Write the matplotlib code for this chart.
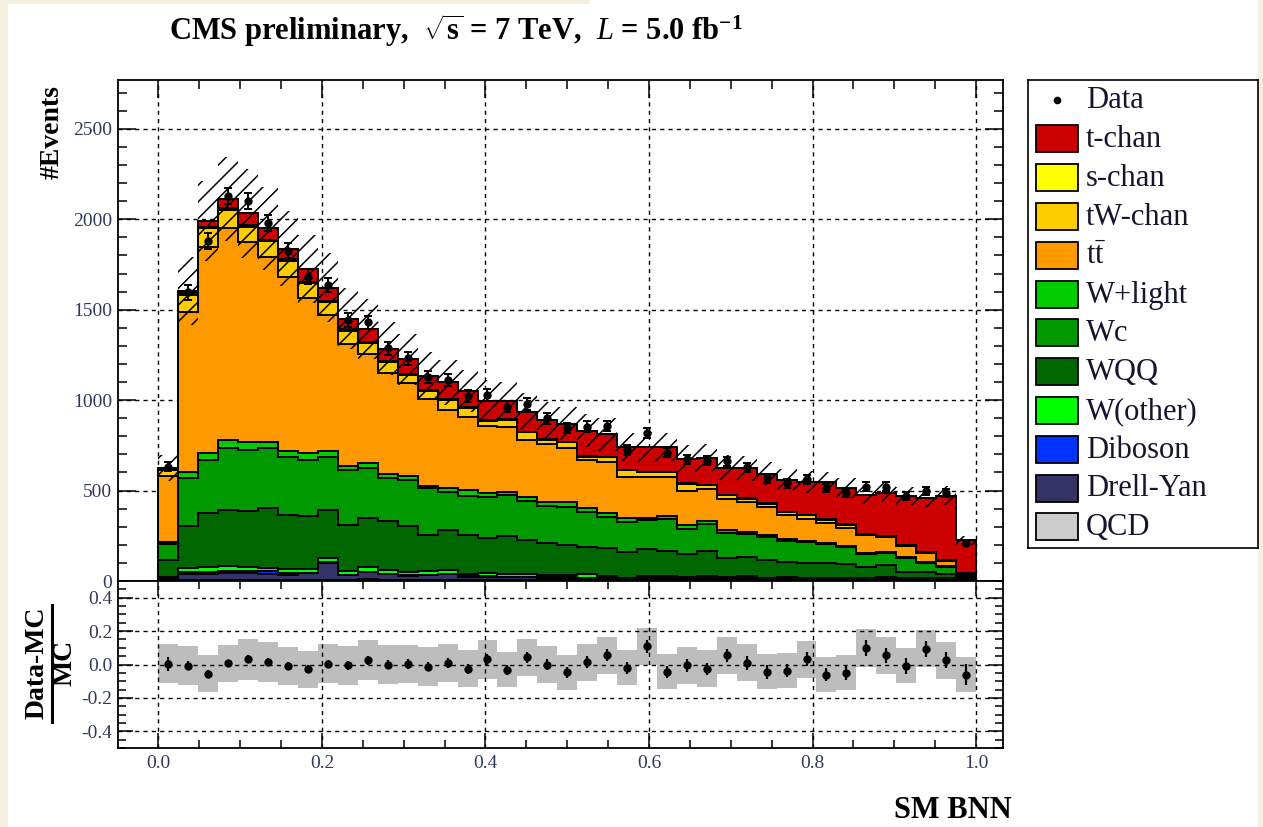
import numpy as np
import matplotlib
matplotlib.use("Agg")
import matplotlib.pyplot as plt
from matplotlib.patches import Rectangle
from matplotlib.lines import Line2D
from matplotlib.ticker import MultipleLocator, FixedLocator, FuncFormatter

# ---------------------------------------------------------------- binning
n_bins = 41
bin_edges = np.linspace(0.0, 1.0, n_bins + 1)
bin_centers = 0.5 * (bin_edges[1:] + bin_edges[:-1])

# ---------------------------------------------------------------- expected yields per bin
t_chan = [10, 15, 32, 50, 65, 62, 60, 71, 73, 59, 69, 69, 83, 79, 95, 90, 106, 100, 109, 106, 99,
          139, 122, 128, 136, 138, 135, 147, 149, 166, 163, 177, 181, 205, 201, 218, 237, 271, 301, 355, 182]
s_chan = [3, 8, 9, 9, 8, 8, 8, 7, 7, 7, 6, 6, 5, 5, 5, 4, 4, 4, 4, 3, 4,
          3, 3, 3, 3, 3, 3, 3, 3, 2, 2, 2, 2, 2, 2, 1, 1, 1, 1, 1, 1]
tw_chan = [34, 93, 101, 97, 84, 88, 88, 81, 72, 76, 64, 62, 45, 46, 54, 47, 29, 36, 42, 23, 33,
           19, 29, 34, 29, 29, 37, 24, 23, 16, 17, 16, 20, 16, 20, 4, 5, 5, 3, 2, 5]
ttbar = [365, 887, 1141, 1174, 1109, 1021, 961, 859, 754, 671, 602, 557, 515, 482, 434, 406, 368, 360, 314, 319, 295,
         267, 282, 230, 226, 213, 190, 173, 172, 166, 157, 135, 122, 111, 97, 98, 83, 58, 48, 30, 10]
w_light = [8, 30, 40, 42, 41, 37, 33, 37, 28, 22, 27, 22, 19, 9, 18, 33, 23, 18, 25, 24, 28,
           19, 18, 19, 10, 19, 24, 17, 16, 11, 9, 7, 7, 7, 6, 7, 7, 6, 7, 6, 4]
w_c = [87, 266, 292, 344, 340, 331, 322, 313, 294, 304, 273, 239, 257, 258, 212, 216, 230, 227, 214, 207, 212,
       193, 175, 166, 162, 173, 137, 151, 136, 127, 129, 116, 113, 107, 96, 71, 67, 77, 48, 40, 8]
w_qq = [98, 235, 299, 310, 307, 329, 298, 290, 269, 258, 276, 269, 255, 203, 219, 213, 193, 208, 188, 173, 164,
        153, 151, 143, 146, 139, 126, 136, 107, 106, 97, 84, 84, 79, 75, 62, 67, 38, 38, 23, 7]
w_other = [8, 20, 24, 28, 22, 20, 22, 22, 22, 18, 24, 22, 14, 18, 24, 14, 16, 18, 16, 14, 14,
           18, 10, 4, 14, 14, 6, 14, 6, 14, 6, 4, 4, 6, 4, 4, 8, 4, 4, 4, 2]
diboson = [2, 13, 12, 14, 14, 14, 14, 3, 3, 3, 3, 3, 3, 3, 3, 3, 3, 3, 3, 3, 3,
           3, 2, 2, 2, 2, 2, 2, 2, 2, 2, 2, 2, 2, 2, 2, 2, 2, 2, 2, 1]
drell_yan = [6, 30, 32, 34, 34, 32, 24, 34, 92, 24, 38, 28, 22, 24, 28, 18, 18, 14, 14, 12, 12,
             10, 12, 8, 8, 8, 10, 8, 8, 8, 6, 12, 6, 6, 6, 6, 6, 4, 4, 4, 2]
qcd = [4, 8, 8, 8, 8, 8, 8, 8, 8, 8, 10, 8, 8, 8, 8, 6, 6, 6, 6, 6, 6,
       6, 6, 5, 5, 5, 5, 5, 5, 5, 5, 5, 5, 5, 5, 5, 5, 4, 4, 4, 2]

# ---------------------------------------------------------------- observed data
data_counts = [633, 1596, 1879, 2129, 2100, 1980, 1826, 1682, 1636, 1443, 1430, 1286, 1231, 1126, 1110, 1024,
               1029, 964, 979, 900, 845, 854, 857, 725, 820, 710, 673, 665, 662, 629, 568, 540, 562, 513,
               489, 522, 522, 470, 500, 485, 212]

# (Data - MC) / MC per bin and relative MC uncertainty
ratio = [0.004, -0.006, -0.056, 0.008, 0.032, 0.014, -0.010, -0.028, 0.004, -0.004, 0.026, 0.000, 0.004,
         -0.012, 0.010, -0.026, 0.030, -0.032, 0.044, 0.000, -0.046, 0.014, 0.056, -0.020, 0.110, -0.044,
         -0.004, -0.026, 0.054, 0.010, -0.044, -0.036, 0.032, -0.060, -0.050, 0.100, 0.054, -0.008, 0.094,
         0.026, -0.060]
rel_unc = [0.117, 0.117, 0.110, 0.110, 0.122, 0.118, 0.113, 0.110, 0.117, 0.117, 0.120, 0.115, 0.115,
           0.115, 0.113, 0.110, 0.115, 0.105, 0.110, 0.110, 0.105, 0.110, 0.110, 0.105, 0.110, 0.105,
           0.110, 0.110, 0.110, 0.110, 0.105, 0.105, 0.110, 0.105, 0.105, 0.115, 0.110, 0.105, 0.110,
           0.110, 0.105]

legend_labels = ["Data", "t-chan", "s-chan", "tW-chan", r"t$\mathregular{\bar{t}}$", "W+light", "Wc",
                 "WQQ", "W(other)", "Diboson", "Drell-Yan", "QCD"]

# ---------------------------------------------------------------- style
plt.rcParams['font.family'] = ['Liberation Serif', 'DejaVu Serif']
plt.rcParams['mathtext.fontset'] = 'custom'
plt.rcParams['mathtext.rm'] = 'Liberation Serif'
plt.rcParams['mathtext.it'] = 'Liberation Serif:italic'
plt.rcParams['mathtext.bf'] = 'Liberation Serif:bold'
plt.rcParams['axes.unicode_minus'] = False
plt.rcParams['hatch.linewidth'] = 1.1

W, H = 1263, 827
fig = plt.figure(figsize=(W / 100, H / 100), dpi=100)
fig.patch.set_facecolor('white')


def px_box(left, top, right, bottom):
    return [left / W, 1 - bottom / H, (right - left) / W, (bottom - top) / H]


# cream page margin
for l, t, r, b in [(0, 0, 8, H), (0, 0, 590, 4), (1258, 0, W, H)]:
    fig.patches.append(Rectangle((l / W, 1 - b / H), (r - l) / W, (b - t) / H,
                                 transform=fig.transFigure, facecolor='#f4f0e0',
                                 edgecolor='none', zorder=-5))

ax = fig.add_axes(px_box(118, 80, 1003, 581))
axr = fig.add_axes(px_box(118, 581, 1003, 748))

tick_color = '#2e3a5c'

# ---------------------------------------------------------------- stacked MC
components = [
    (qcd, '#cccccc'),
    (drell_yan, '#333366'),
    (diboson, '#0033ff'),
    (w_other, '#00ff00'),
    (w_qq, '#006600'),
    (w_c, '#009900'),
    (w_light, '#00cc00'),
    (ttbar, '#ff9900'),
    (tw_chan, '#ffcc00'),
    (s_chan, '#ffff00'),
    (t_chan, '#cc0000'),
]
base = np.zeros(n_bins)
for vals, col in components:
    top = base + np.asarray(vals, float)
    ax.stairs(top, bin_edges, baseline=base, fill=True, facecolor=col,
              edgecolor='black', linewidth=1.4, zorder=2)
    base = top
mc_total = base
unc = np.asarray(rel_unc)

# MC uncertainty band (hatched)
ax.stairs(mc_total * (1 + unc), bin_edges, baseline=mc_total * (1 - unc), fill=True,
          facecolor='none', edgecolor='black', hatch='//', linewidth=0, zorder=3)

data = np.asarray(data_counts, float)
ax.errorbar(bin_centers, data, yerr=np.sqrt(data), fmt='o', color='black', ms=5,
            elinewidth=1.4, capsize=3, capthick=1.4, zorder=5)

ax.set_xlim(-0.0495, 1.033)
ax.set_ylim(0, 2770)
ax.set_axisbelow(True)
ax.xaxis.set_major_locator(MultipleLocator(0.2))
ax.xaxis.set_minor_locator(MultipleLocator(0.05))
ax.yaxis.set_major_locator(FixedLocator([0, 500, 1000, 1500, 2000, 2500]))
ax.yaxis.set_minor_locator(MultipleLocator(100))
ax.grid(True, which='major', linestyle=(0, (3, 3)), color='black', linewidth=1.0)
ax.tick_params(axis='both', which='both', direction='in', top=True, right=True,
               labelbottom=False, colors='black', width=1.1)
ax.tick_params(axis='both', which='major', length=13)
ax.tick_params(axis='both', which='minor', length=6.5)
ax.tick_params(axis='y', labelsize=14, labelcolor=tick_color, pad=4)
for s in ax.spines.values():
    s.set_linewidth(1.3)

# ---------------------------------------------------------------- ratio panel
r = np.asarray(ratio)
axr.bar(bin_centers, 2 * unc, bottom=r - unc, width=1.0 / n_bins, color='#bdbdbd',
        linewidth=0, zorder=1)
axr.errorbar(bin_centers, r, yerr=np.sqrt(data) / mc_total, fmt='o', color='black', ms=5,
             elinewidth=1.6, capsize=0, zorder=4)
axr.set_xlim(-0.0495, 1.033)
axr.set_ylim(-0.5, 0.5)
axr.xaxis.set_major_locator(MultipleLocator(0.2))
axr.xaxis.set_minor_locator(MultipleLocator(0.05))
axr.yaxis.set_major_locator(FixedLocator([-0.4, -0.2, 0.0, 0.2, 0.4]))
axr.yaxis.set_minor_locator(MultipleLocator(0.05))
axr.xaxis.set_major_formatter(FuncFormatter(lambda v, p: f"{v:.1f}"))
axr.yaxis.set_major_formatter(FuncFormatter(lambda v, p: f"{v:.1f}" if abs(v) > 1e-9 else "0.0"))
axr.grid(True, which='major', linestyle=(0, (3, 3)), color='black', linewidth=1.0)
axr.tick_params(axis='both', which='both', direction='in', top=True, right=True, width=1.1)
axr.tick_params(axis='both', which='major', length=11)
axr.tick_params(axis='both', which='minor', length=6)
axr.tick_params(axis='both', labelsize=14, labelcolor=tick_color)
axr.tick_params(axis='x', pad=5)
axr.tick_params(axis='y', pad=4)
for s in axr.spines.values():
    s.set_linewidth(1.3)

# ---------------------------------------------------------------- labels
fig.text(169 / W, 1 - 40 / H,
         r"CMS preliminary,  $\mathbf{\sqrt{s}}$ = 7 TeV,  $\mathbf{\mathit{L}}$ = 5.0 fb$^{\mathbf{-1}}$",
         fontsize=22, fontweight='bold', ha='left', va='baseline')
fig.text(52 / W, 1 - 85 / H, "#Events", rotation=90, fontsize=20, fontweight='bold',
         ha='center', va='top')
fig.text(1012 / W, 1 - 818 / H, "SM BNN", fontsize=22, fontweight='bold', ha='right', va='baseline')

# fraction label of the ratio panel
fig.text(37.5 / W, 1 - 663 / H, "Data-MC", rotation=90, fontsize=20, fontweight='bold',
         ha='center', va='center')
fig.text(65 / W, 1 - 663 / H, "MC", rotation=90, fontsize=20, fontweight='bold',
         ha='center', va='center')
fig.add_artist(Line2D([52 / W, 52 / W], [1 - 605 / H, 1 - 722 / H], color='black', linewidth=2.2,
                      transform=fig.transFigure))

# ---------------------------------------------------------------- legend
leg_ax = fig.add_axes(px_box(1028, 80, 1258, 548))
leg_ax.set_xlim(1028, 1258)
leg_ax.set_ylim(548, 80)
leg_ax.set_xticks([])
leg_ax.set_yticks([])
for s in leg_ax.spines.values():
    s.set_linewidth(1.2)
legend_colors = [None, '#cc0000', '#ffff00', '#ffcc00', '#ff9900', '#00cc00', '#009900',
                 '#006600', '#00ff00', '#0033ff', '#333366', '#cccccc']
for i, (lab, col) in enumerate(zip(legend_labels, legend_colors)):
    yc = 100 + 38.8 * i
    if col is None:
        leg_ax.plot([1057], [yc], 'o', color='black', ms=4.5)
    else:
        leg_ax.add_patch(Rectangle((1036, yc - 13.5), 42, 27, facecolor=col,
                                   edgecolor='black', linewidth=1.3))
    leg_ax.text(1086, yc + 1, lab, fontsize=22, ha='left', va='center', color='#15152e')

fig.savefig("out.png", dpi=100)
